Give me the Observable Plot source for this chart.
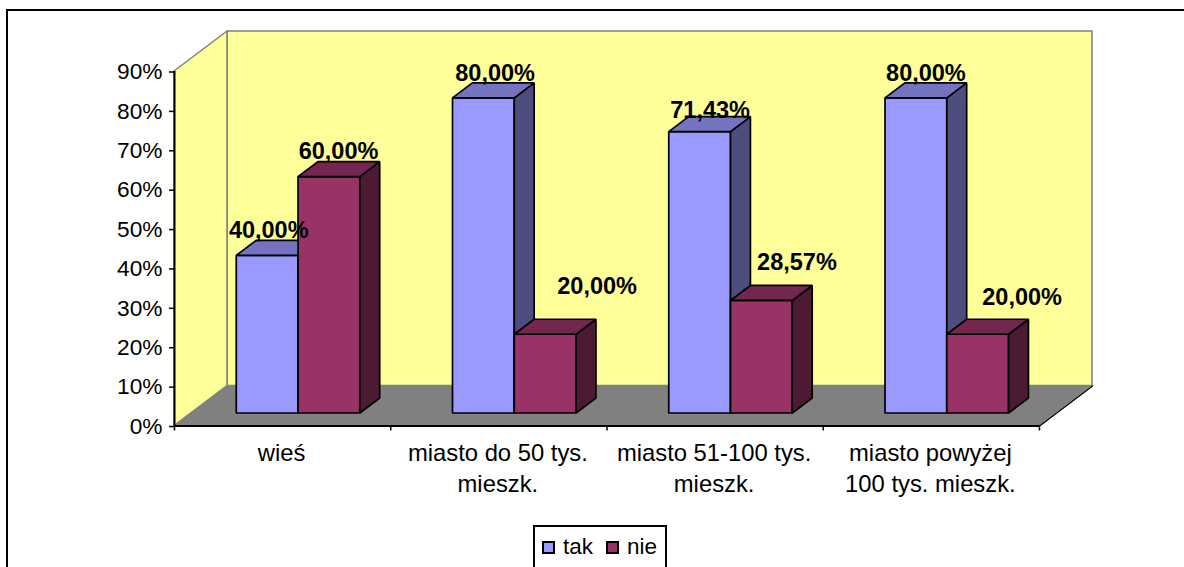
<!DOCTYPE html>
<html><head><meta charset="utf-8">
<script src="https://cdn.jsdelivr.net/npm/d3@7"></script>
<script src="https://cdn.jsdelivr.net/npm/@observablehq/plot@0.6"></script>
<style>
html,body{margin:0;padding:0;background:#fff;overflow:hidden;width:1184px;height:567px}
#frame{position:absolute;left:6px;top:9px;width:1400px;height:800px;border:2px solid #000;box-sizing:border-box}
#chart{position:absolute;left:0;top:0}
#legend{position:absolute;left:533px;top:525px;width:134px;height:80px;border:2px solid #000;box-sizing:border-box;background:#fff;font:22.5px "Liberation Sans",Arial,sans-serif;color:#000}
#legend i{position:absolute;top:14px;width:13px;height:13px;border:2px solid #000;box-sizing:border-box}
#legend span{position:absolute;top:8px;line-height:24px}
</style></head><body>
<div id="frame"></div><div id="chart"></div>
<div id="legend"><i style="left:7px;background:#9999FF"></i><span style="left:28px">tak</span><i style="left:71px;background:#993366"></i><span style="left:92px">nie</span></div>
<script>
const categories = ["wieś", "miasto do 50 tys.\nmieszk.", "miasto 51-100 tys.\nmieszk.", "miasto powyżej\n100 tys. mieszk."];
const tak = [40, 80, 71.43, 80];
const nie = [60, 20, 28.57, 20];
const yTicks = [0, 10, 20, 30, 40, 50, 60, 70, 80, 90];
const xTicks = [0, 1, 2, 3, 4];
const colorsTak = {front: "#9999FF", side: "#4D4D80", top: "#7373BF"};
const colorsNie = {front: "#993366", side: "#4D1A33", top: "#732650"};
// label placement relative to each bar's centre (category units, percent points)
const labelShiftX = {tak: [0.005, 0.052, 0.046, 0.044], nie: [0.042, 0.238, 0.162, 0.203]};
const labelShiftY = {tak: [6.4, 6.4, 5.4, 6.4], nie: [6.4, 12.2, 9.9, 9.4]};

// oblique projection: depth z in 0..1 across the floor
const depthX = 53 / 216.25, depthY = 40 / 3.94;
const P = (x, v, z) => ({x: x + z * depthX, y: v + z * depthY});
const Z0 = 0.3125, Z1 = 0.6875;
const barW = 1 / 3.5, gap = 0.75 / 3.5 - 0.003;
const quad = (id, fill, a, b, c, d) => [
  {id, fill, x1: a.x, y1: a.y, x2: d.x, y2: d.y},
  {id, fill, x1: b.x, y1: b.y, x2: c.x, y2: c.y}
];
const wallFaces = [
  ...quad("back", "#FFFF99", P(0, 90, 1), P(4, 90, 1), P(4, 0, 1), P(0, 0, 1)),
  ...quad("left", "#FFFF99", P(0, 90, 0), P(0, 90, 1), P(0, 0, 1), P(0, 0, 0))
];
const floorFace = quad("floor", "#808080", P(0, 0, 1), P(4, 0, 1), P(4, 0, 0), P(0, 0, 0));
const barFaces = [], labels = [];
const addBar = (id, x, v, c) => {
  const r = x + barW;
  barFaces.push(
    ...quad(id + "f", c.front, P(x, v, Z0), P(r, v, Z0), P(r, 0, Z0), P(x, 0, Z0)),
    ...quad(id + "s", c.side, P(r, v, Z0), P(r, v, Z1), P(r, 0, Z1), P(r, 0, Z0)),
    ...quad(id + "t", c.top, P(x, v, Z1), P(r, v, Z1), P(r, v, Z0), P(x, v, Z0))
  );
};
categories.forEach((_, i) => {
  const x0 = i + gap;
  addBar("t" + i, x0, tak[i], colorsTak);
  addBar("n" + i, x0 + barW, nie[i], colorsNie);
  const a = P(x0 + barW / 2, tak[i], Z0), b = P(x0 + 1.5 * barW, nie[i], Z0);
  labels.push(
    {x: a.x + labelShiftX.tak[i], y: a.y + labelShiftY.tak[i], t: tak[i]},
    {x: b.x + labelShiftX.nie[i], y: b.y + labelShiftY.nie[i], t: nie[i]}
  );
});
const fmt = v => v.toFixed(2).replace(".", ",") + "%";
const area = (data, o) => Plot.area(data, {x1: "x1", y1: "y1", x2: "x2", y2: "y2", z: "id", fill: "fill", ...o});

const svg = Plot.plot({
  width: 1184, height: 525,
  marginLeft: 174, marginRight: 145, marginTop: 71, marginBottom: 99.5,
  x: {domain: [0, 4], axis: null},
  y: {domain: [0, 90], axis: null},
  color: {type: "identity"},
  style: {background: "transparent", fontFamily: "'Liberation Sans', Arial, sans-serif", overflow: "visible"},
  marks: [
    area(wallFaces, {stroke: "#808080", strokeWidth: 1.5}),
    area(floorFace, {}),
    Plot.line([P(4, 0, 0), P(4, 0, 1)], {x: "x", y: "y", stroke: "#000", strokeWidth: 1.5}),
    area(barFaces, {stroke: "#000", strokeWidth: 1.7, strokeLinejoin: "miter"}),
    Plot.ruleX([0], {y1: 0, y2: 90, stroke: "#000", strokeWidth: 2}),
    Plot.ruleY([0], {x1: 0, x2: 4, stroke: "#000", strokeWidth: 2}),
    Plot.axisY({ticks: yTicks, tickFormat: d => d + "%", tickSize: 5, tickPadding: 7, fontSize: 22.7, dy: 0.5, label: null, stroke: "#000", strokeWidth: 1.5, fill: "#000", strokeOpacity: 1}),
    Plot.axisX({ticks: xTicks, tickFormat: () => "", tickSize: 5, label: null, stroke: "#000", strokeWidth: 1.5, strokeOpacity: 1}),
    Plot.text(categories, {x: (d, i) => i + 0.5, y: () => 0, text: d => d, dx: -1, dy: 13, lineAnchor: "top", lineHeight: 1.3, fontSize: 23.8, fill: "#000"}),
    Plot.text(labels, {x: "x", y: "y", text: d => fmt(d.t), dx: 0, fontSize: 23.5, fontWeight: "bold", fill: "#000"})
  ]
});
document.getElementById("chart").append(svg);
</script></body></html>
